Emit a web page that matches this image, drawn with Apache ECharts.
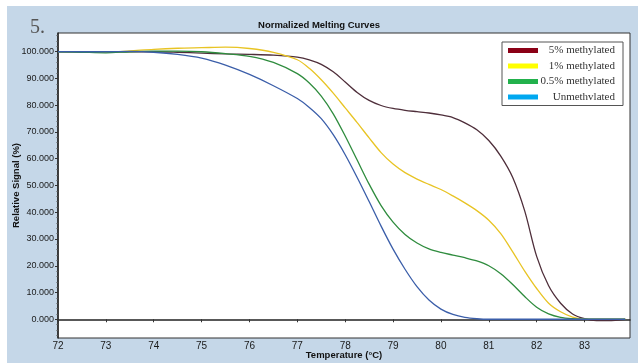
<!DOCTYPE html>
<html>
<head>
<meta charset="utf-8">
<title>Normalized Melting Curves</title>
<script src="https://cdn.jsdelivr.net/npm/echarts@6/dist/echarts.min.js"></script>
<style>
html, body { margin: 0; padding: 0; background: #fff; }
#chart { width: 638px; height: 363px; }
</style>
</head>
<body>
<div id="chart"></div>
<script>
// temperature (°C) where the curves were read
var temps = [72, 72.5, 73, 73.5, 74, 74.5, 75, 75.5, 76, 76.5, 77, 77.25, 77.5, 77.75,
  78, 78.25, 78.5, 78.75, 79, 79.25, 79.5, 79.75, 80, 80.25, 80.5, 80.75, 81, 81.25,
  81.5, 81.75, 82, 82.25, 82.5, 82.75, 83, 83.25, 83.5, 83.85];

// relative signal (%) per sample
var meth5 = [100, 100, 100, 100, 100, 99.8, 99.5, 99.2, 99, 98.7, 98, 97, 95.3, 92.5,
  88.7, 84.8, 81.8, 79.9, 78.8, 78.1, 77.6, 77.1, 76.4, 75.4, 73.4, 70.8, 66.8, 61,
  53, 40.5, 23.5, 12.5, 6, 2, 0.2, -0.5, -0.5, 0];
var meth1 = [100, 99.8, 99.8, 100.3, 100.9, 101.3, 101.5, 101.7, 101.2, 99.8, 97, 93.8, 89.5, 84.5,
  79, 73.5, 67.8, 62.3, 58, 54.8, 52.4, 50.4, 48.5, 46.1, 43.5, 40.6, 37, 32,
  25.2, 18, 11.5, 6, 2.8, 0.8, 0, 0, 0, 0];
var meth05 = [100, 99.8, 99.6, 100, 100.2, 100.2, 100, 99.3, 98.3, 96, 91.8, 88.3, 83.4, 76.8,
  68.5, 59.5, 50.5, 42.5, 36.3, 31.7, 28.5, 26.3, 25, 24, 23, 21.8, 20, 17,
  13, 8.5, 4.5, 2, 0.7, 0.2, 0, 0, 0, 0];
var unmeth = [100, 100, 100, 100.1, 99.8, 99, 97.6, 95, 91.5, 87.3, 82.5, 79.2, 75, 69,
  61.5, 53, 44, 34.8, 26.2, 18.7, 12.2, 7.2, 3.8, 1.8, 0.7, 0.2, 0, 0,
  0, 0, 0, 0, 0, 0, 0, 0, 0, 0];

var names = ['5% methylated', '1% methylated', '0.5% methylated', 'Unmethylated'];
var legendNames = ['5% methylated', '1% methylated', '0.5% methylated', 'Unmethvlated'];
var lineColors = ['#4e2e3a', '#e8c424', '#2f8c3e', '#3b5ea9'];
var legendColors = ['#8b0016', '#ffff00', '#22b14c', '#00a8f0'];

var xTicks = [72, 73, 74, 75, 76, 77, 78, 79, 80, 81, 82, 83];
var yTicks = [0, 10, 20, 30, 40, 50, 60, 70, 80, 90, 100];
var yMinorTicks = [];
for (var m = -6; m <= 106; m += 2) { if (m % 10 !== 0) yMinorTicks.push(m); }

var sans = "'Liberation Sans', Arial, sans-serif";

function pairs(vals) {
  return temps.map(function (t, i) { return [t, vals[i]]; });
}
var allVals = [meth5, meth1, meth05, unmeth];

var option = {
  backgroundColor: '#ffffff',
  animation: false,
  graphic: [{
    type: 'rect', left: 7, top: 6, z: -10,
    shape: { width: 631, height: 357 },
    style: { fill: '#c5d7e8' }
  }],
  title: [
    {
      text: '5.', left: 25, top: 13,
      textStyle: { fontFamily: "'Liberation Serif', serif", fontSize: 20, fontWeight: 'normal', color: '#555' }
    },
    {
      text: 'Normalized Melting Curves', left: 'center', top: 15,
      textStyle: { fontFamily: sans, fontSize: 9.5, fontWeight: 'bold', color: '#111' }
    }
  ],
  legend: {
    orient: 'vertical',
    left: 502, top: 42,
    padding: [3, 8, 3, 6],
    itemGap: 4.5,
    itemWidth: 30, itemHeight: 5,
    icon: 'rect',
    borderColor: '#555', borderWidth: 1,
    backgroundColor: '#fff',
    data: names.map(function (n, i) {
      return { name: n, itemStyle: { color: legendColors[i] } };
    }),
    formatter: function (n) { return '{a|' + legendNames[names.indexOf(n)] + '}'; },
    textStyle: {
      rich: {
        a: { width: 72, align: 'right', fontFamily: "'Liberation Serif', serif", fontSize: 11, color: '#333', lineHeight: 14 }
      }
    }
  },
  grid: {
    left: 58, right: 8, top: 33, bottom: 25,
    containLabel: false, outerBoundsMode: 'none',
    show: true, backgroundColor: '#fff', borderColor: '#333', borderWidth: 1
  },
  xAxis: {
    type: 'value', min: 72, max: 83.95,
    name: 'Temperature (°C)', nameLocation: 'middle', nameGap: 12.5, nameMoveOverlap: false,
    nameTextStyle: { fontFamily: sans, fontSize: 9.5, fontWeight: 'bold', color: '#111' },
    axisLine: { lineStyle: { color: '#222', width: 1.5 } },
    axisTick: { length: 3, customValues: xTicks, lineStyle: { color: '#333' } },
    axisLabel: { customValues: xTicks, margin: 3, fontFamily: sans, fontSize: 10, color: '#1a1a1a' },
    splitLine: { show: false }
  },
  yAxis: [
    {
      type: 'value', min: -7, max: 107,
      name: 'Relative Signal (%)', nameLocation: 'middle', nameGap: 37, nameMoveOverlap: false,
      nameTextStyle: { fontFamily: sans, fontSize: 9.5, fontWeight: 'bold', color: '#111' },
      axisLine: { show: true, lineStyle: { color: '#222', width: 1.5 } },
      axisTick: { show: true, length: 3, customValues: yTicks, lineStyle: { color: '#333' } },
      axisLabel: {
        customValues: yTicks, margin: 4, fontFamily: sans, fontSize: 9, color: '#1a1a1a',
        formatter: function (v) { return v.toFixed(3); }
      },
      splitLine: { show: false }
    },
    {
      type: 'value', min: -7, max: 107, position: 'left',
      axisLine: { show: false },
      axisTick: { show: true, length: 1.5, customValues: yMinorTicks, lineStyle: { color: '#555' } },
      axisLabel: { show: false },
      splitLine: { show: false }
    }
  ],
  series: names.map(function (n, i) {
    return {
      name: n, type: 'line', yAxisIndex: 0,
      data: pairs(allVals[i]),
      smooth: 0.3, showSymbol: false, symbol: 'none',
      itemStyle: { color: legendColors[i] },
      lineStyle: { color: lineColors[i], width: 1.3 },
      z: 2 + i
    };
  })
};

var chart = echarts.init(document.getElementById('chart'), null, { renderer: 'canvas' });
chart.setOption(option);
</script>
</body>
</html>
